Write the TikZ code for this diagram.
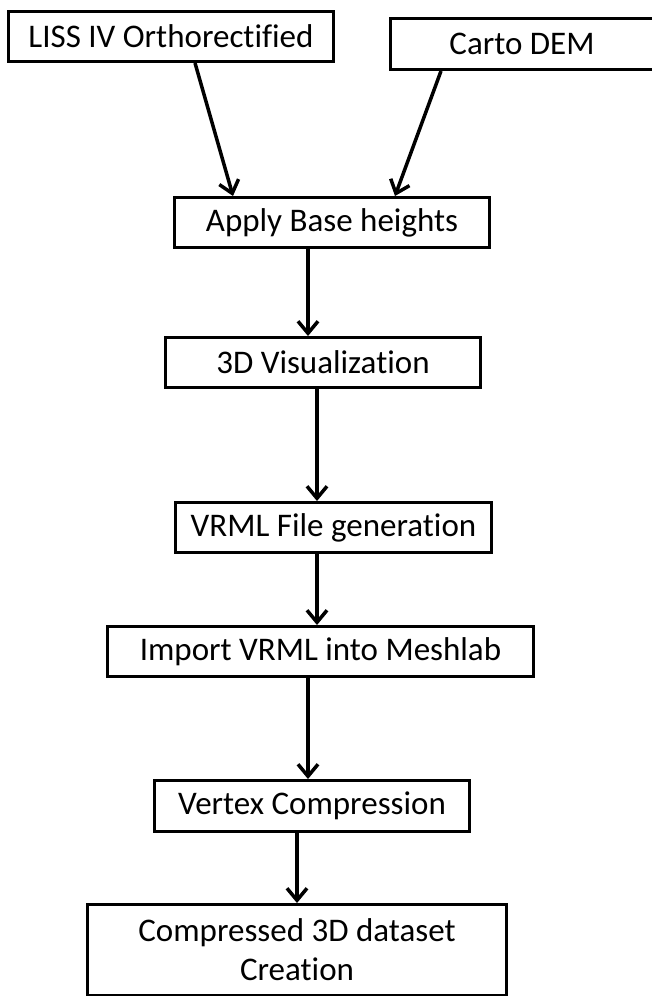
\documentclass[tikz,border=0pt]{standalone}
\usepackage{fontspec}
\setmainfont{Carlito}[Ligatures=NoCommon]
\usetikzlibrary{arrows.meta}
\begin{document}
\begin{tikzpicture}[x=1pt,y=-1pt]
  \tikzset{ box/.style={draw, line width=3pt, inner sep=0pt, minimum height=50pt,
                        font=\fontsize{33}{39}\selectfont, align=center},
            arr/.style={line width=3.5pt, -{Straight Barb[length=12pt,width=20pt]}} };
  \useasboundingbox (0,0) rectangle (652,996);
  \node[box, minimum width=325pt] (A) at (171,36.5) {LISS IV Orthorectified};
  \node[box, minimum width=263pt, minimum height=51pt] (B) at (522,44) {Carto DEM};
  \node[box, minimum width=315pt] (C) at (332,222.5) {Apply Base heights};
  \node[box, minimum width=315pt] (D) at (323,362.5) {3D Visualization};
  \node[box, minimum width=316pt] (E) at (333.5,527.5) {VRML File generation};
  \node[box, minimum width=426pt] (F) at (320.5,651.5) {Import VRML into Meshlab};
  \node[box, minimum width=315pt, minimum height=51pt] (G) at (312,806) {Vertex Compression};
  \node[box, minimum width=419pt, minimum height=90.5pt] (H) at (297,949.75) {Compressed 3D dataset\\Creation};
  \draw[arr] ([xshift=24pt]A.south) -- ([xshift=-99pt]C.north);
  \draw[arr] ([xshift=-81pt]B.south) -- ([xshift=63pt]C.north);
  \draw[arr] ([xshift=-24pt]C.south) -- ([xshift=-15pt]D.north);
  \draw[arr] ([xshift=-6pt]D.south) -- ([xshift=-16.5pt]E.north);
  \draw[arr] ([xshift=-16.5pt]E.south) -- ([xshift=-3.5pt]F.north);
  \draw[arr] ([xshift=-12.5pt]F.south) -- ([xshift=-4pt]G.north);
  \draw[arr] ([xshift=-15pt]G.south) -- (H.north);
\end{tikzpicture}
\end{document}
